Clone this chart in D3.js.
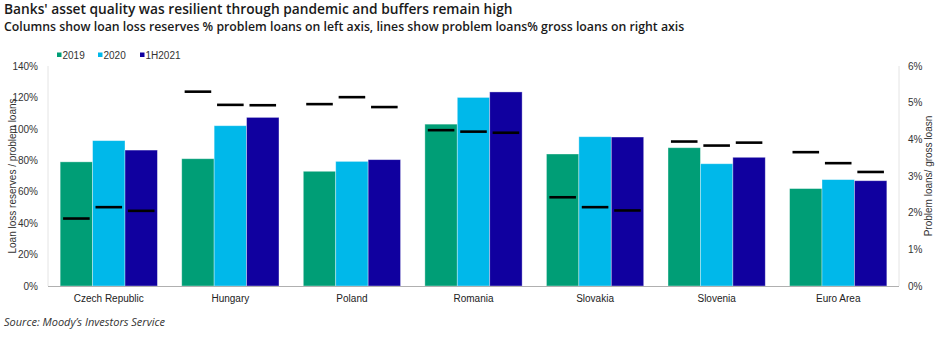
<!DOCTYPE html>
<html><head><meta charset="utf-8">
<script src="https://cdn.jsdelivr.net/npm/d3@7"></script>
<style>
body{margin:0;background:#fff;}
svg{display:block;}
</style></head>
<body>
<svg id="chart" width="944" height="337"></svg>
<script>
const categories = ["Czech Republic","Hungary","Poland","Romania","Slovakia","Slovenia","Euro Area"];
const seriesNames = ["2019","2020","1H2021"];
// loan loss reserves % problem loans (left axis)
const reserves2019 = [79, 81, 73, 103, 84, 88, 62];
const reserves2020 = [92.5, 102, 79.3, 120, 95, 77.8, 67.7];
const reserves1H2021 = [86.5, 107.3, 80.4, 123.5, 94.8, 81.9, 67];
// problem loans % gross loans (right axis)
const problem2019 = [1.84, 5.30, 4.96, 4.25, 2.42, 3.94, 3.65];
const problem2020 = [2.15, 4.94, 5.15, 4.21, 2.15, 3.83, 3.35];
const problem1H2021 = [2.05, 4.93, 4.88, 4.18, 2.06, 3.91, 3.11];
const leftTicks = [0,20,40,60,80,100,120,140];
const rightTicks = [0,1,2,3,4,5,6];
const colors = ["#009E76","#00B8EA","#10009F"];

const reserves = [reserves2019, reserves2020, reserves1H2021];
const problems = [problem2019, problem2020, problem1H2021];

const svg = d3.select("#chart");
const m = {left:48, right:899, top:66, bottom:286};

const x0 = d3.scaleBand().domain(categories).range([m.left, m.right]).paddingInner(0.2).paddingOuter(0.1);
const x1 = d3.scaleBand().domain(seriesNames).range([0, x0.bandwidth()]);
const yL = d3.scaleLinear().domain([0,140]).range([m.bottom, m.top]);
const yR = d3.scaleLinear().domain([0,6]).range([m.bottom, m.top]);

const font = "'Liberation Sans', Arial, sans-serif";

// title
svg.append("text").attr("x",4).attr("y",13.5).text("Banks' asset quality was resilient through pandemic and buffers remain high")
  .attr("font-family","'Open Sans', sans-serif").attr("font-size",13.75).attr("font-weight",600).attr("fill","#1a1a1a");
svg.append("text").attr("x",4).attr("y",30.5).text("Columns show loan loss reserves % problem loans on left axis, lines show problem loans% gross loans on right axis")
  .attr("font-family","'Open Sans', sans-serif").attr("font-size",12.3).attr("font-weight",600).attr("fill","#1a1a1a");

// axes lines
svg.append("line").attr("x1",m.left).attr("x2",m.left).attr("y1",m.top).attr("y2",m.bottom).attr("stroke","#e4e4e4");
svg.append("line").attr("x1",m.right).attr("x2",m.right).attr("y1",m.top).attr("y2",m.bottom).attr("stroke","#e4e4e4");

// bars
const g = svg.append("g");
categories.forEach((c,i)=>{
  seriesNames.forEach((s,j)=>{
    const v = reserves[j][i];
    g.append("rect").attr("x",x0(c)+x1(s)).attr("y",yL(v)).attr("width",x1.bandwidth()).attr("height",yL(0)-yL(v))
      .attr("fill",colors[j]).attr("stroke","#ffffff").attr("stroke-opacity",0.45).attr("stroke-width",0.8);
  });
});
// problem loan dashes
categories.forEach((c,i)=>{
  seriesNames.forEach((s,j)=>{
    const v = problems[j][i];
    const cx = x0(c)+x1(s)+x1.bandwidth()/2;
    const w = x1.bandwidth()*0.82;
    g.append("line").attr("x1",cx-w/2).attr("x2",cx+w/2).attr("y1",yR(v)).attr("y2",yR(v))
      .attr("stroke","#000").attr("stroke-width",2.6);
  });
});

// x axis line
svg.append("line").attr("x1",m.left).attr("x2",m.right).attr("y1",m.bottom+0.5).attr("y2",m.bottom+0.5).attr("stroke","#b0b0b0").attr("stroke-width",1);

// axes
const axL = d3.axisLeft(yL).tickValues(leftTicks).tickFormat(d=>d+"%").tickSize(0).tickPadding(10);
const gl = svg.append("g").attr("transform",`translate(${m.left},0)`).call(axL);
gl.select(".domain").remove();
gl.selectAll("text").attr("font-family",font).attr("font-size",10).attr("fill","#333");

const axR = d3.axisRight(yR).tickValues(rightTicks).tickFormat(d=>d+"%").tickSize(0).tickPadding(9);
const gr = svg.append("g").attr("transform",`translate(${m.right},0)`).call(axR);
gr.select(".domain").remove();
gr.selectAll("text").attr("font-family",font).attr("font-size",10).attr("fill","#333");

const axB = d3.axisBottom(x0).tickSize(0).tickPadding(9);
const gb = svg.append("g").attr("transform",`translate(0,${m.bottom})`).call(axB);
gb.select(".domain").remove();
gb.selectAll("text").attr("font-family",font).attr("font-size",10).attr("fill","#222");

// axis titles
svg.append("text").attr("transform",`translate(16,${(m.top+m.bottom)/2}) rotate(-90)`).attr("text-anchor","middle")
  .text("Loan loss reserves / problem loans").attr("font-family",font).attr("font-size",10).attr("fill","#333");
svg.append("text").attr("transform",`translate(932,${(m.top+m.bottom)/2}) rotate(-90)`).attr("text-anchor","middle")
  .text("Problem loans/ gross loasn").attr("font-family",font).attr("font-size",10).attr("fill","#333");

// legend
const legX = [57, 98, 140];
seriesNames.forEach((s,j)=>{
  svg.append("rect").attr("x",legX[j]).attr("y",52.5).attr("width",4.5).attr("height",4.5).attr("fill",colors[j]);
  svg.append("text").attr("x",legX[j]+5.5).attr("y",59).text(s).attr("font-family",font).attr("font-size",10).attr("fill","#333");
});

// source
svg.append("text").attr("x",4).attr("y",326).text("Source: Moody’s Investors Service")
  .attr("font-family","'Open Sans', sans-serif").attr("font-style","italic").attr("font-size",11).attr("fill","#333");
</script>
</body></html>
